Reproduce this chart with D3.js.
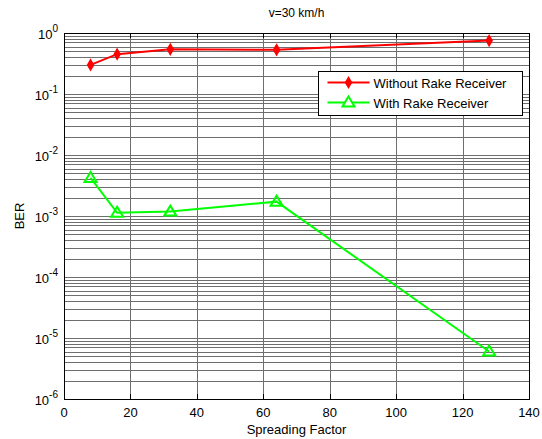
<!DOCTYPE html>
<html>
<head>
<meta charset="utf-8">
<script src="https://d3js.org/d3.v7.min.js"></script>
<style>
  body { margin: 0; background: #fff; }
  text { font-family: "Liberation Sans", Arial, sans-serif; }
</style>
</head>
<body>
<div id="chart"></div>
<script>
// spreading factors and BER values
var spreadingFactor = [8, 16, 32, 64, 128];
var berWithout = [0.30, 0.45, 0.54, 0.53, 0.75];
var berWith = [0.0042, 0.00113, 0.00118, 0.00172, 0.0000060];
var seriesNames = ["Without Rake Receiver", "With Rake Receiver"];
var xTicks = [0, 20, 40, 60, 80, 100, 120, 140];
var yExponents = [0, -1, -2, -3, -4, -5, -6];

var W = 542, H = 439;
var margin = {top: 33, right: 13, bottom: 40, left: 64};
var width = W - margin.left - margin.right,
    height = H - margin.top - margin.bottom;

var svg = d3.select("#chart").append("svg")
    .attr("width", W).attr("height", H);

var g = svg.append("g")
    .attr("transform", "translate(" + margin.left + "," + margin.top + ")");

var x = d3.scaleLinear().domain([0, 140]).range([0, width]);
var y = d3.scaleLog().domain([1e-6, 1]).range([height, 0]);

// grid lines
var minor = [];
for (var e = -6; e < 0; e++) {
    for (var k = 1; k <= 9; k++) minor.push(k * Math.pow(10, e));
}
g.append("g").selectAll("line").data(minor).enter().append("line")
    .attr("x1", 0).attr("x2", width)
    .attr("y1", function (d) { return Math.round(y(d)) + 0.5; })
    .attr("y2", function (d) { return Math.round(y(d)) + 0.5; })
    .attr("stroke", "#6e6e6e").attr("stroke-width", 1);

g.append("g").selectAll("line").data(xTicks.slice(1, -1)).enter().append("line")
    .attr("x1", function (d) { return Math.round(x(d)) + 0.5; })
    .attr("x2", function (d) { return Math.round(x(d)) + 0.5; })
    .attr("y1", 0).attr("y2", height)
    .attr("stroke", "#6e6e6e").attr("stroke-width", 1);

// axes box
g.append("rect").attr("x", 0.5).attr("y", 0.5)
    .attr("width", width).attr("height", height)
    .attr("fill", "none").attr("stroke", "#000").attr("stroke-width", 1);

// x ticks (inside, both sides)
xTicks.forEach(function (t) {
    var px = Math.round(x(t)) + 0.5;
    g.append("line").attr("x1", px).attr("x2", px).attr("y1", height).attr("y2", height - 5).attr("stroke", "#000");
    g.append("line").attr("x1", px).attr("x2", px).attr("y1", 0).attr("y2", 5).attr("stroke", "#000");
    g.append("text").attr("x", x(t)).attr("y", height + 18)
        .attr("text-anchor", "middle").attr("font-size", 13).text(t);
});

// y tick labels 10^n
yExponents.forEach(function (n) {
    var py = y(Math.pow(10, n));
    var t = g.append("text").attr("x", -6).attr("y", py + 6)
        .attr("text-anchor", "end").attr("font-size", 13);
    t.append("tspan").text("10");
    t.append("tspan").attr("dy", -7).attr("font-size", 10).text(n);
});

// series
var ptsWithout = spreadingFactor.map(function (d, i) { return [d, berWithout[i]]; });
var ptsWith = spreadingFactor.map(function (d, i) { return [d, berWith[i]]; });
var line = d3.line().x(function (d) { return x(d[0]); }).y(function (d) { return y(d[1]); });

g.append("path").datum(ptsWithout).attr("d", line)
    .attr("fill", "none").attr("stroke", "#ff0000").attr("stroke-width", 2);
g.append("path").datum(ptsWith).attr("d", line)
    .attr("fill", "none").attr("stroke", "#00ff00").attr("stroke-width", 2);

var diamond = d3.symbol().type(d3.symbolDiamond).size(30);
var tri = "M0,-6L6,4L-6,4Z";

g.selectAll(".mk1").data(ptsWithout).enter().append("path")
    .attr("transform", function (d) { return "translate(" + x(d[0]) + "," + y(d[1]) + ")"; })
    .attr("d", diamond).attr("fill", "#ff0000").attr("stroke", "#ff0000").attr("stroke-width", 1.5);

g.selectAll(".mk2").data(ptsWith).enter().append("path")
    .attr("transform", function (d) { return "translate(" + x(d[0]) + "," + y(d[1]) + ")"; })
    .attr("d", tri).attr("fill", "none").attr("stroke", "#00ff00").attr("stroke-width", 2);

// title and axis labels
svg.append("text").attr("x", margin.left + width / 2).attr("y", 17)
    .attr("text-anchor", "middle").attr("font-size", 12).text("v=30 km/h");
svg.append("text").attr("x", margin.left + width / 2).attr("y", 434)
    .attr("text-anchor", "middle").attr("font-size", 13).text("Spreading Factor");
svg.append("text").attr("transform", "translate(24," + (margin.top + height / 2) + ") rotate(-90)")
    .attr("text-anchor", "middle").attr("font-size", 13).text("BER");

// legend
var lg = svg.append("g").attr("transform", "translate(318.5,71.5)");
lg.append("rect").attr("width", 204).attr("height", 44)
    .attr("fill", "#fff").attr("stroke", "#000");
var colors = ["#ff0000", "#00ff00"];
seriesNames.forEach(function (name, i) {
    var ly = 11 + i * 20;
    lg.append("line").attr("x1", 9).attr("x2", 51).attr("y1", ly).attr("y2", ly)
        .attr("stroke", colors[i]).attr("stroke-width", 2);
    lg.append("path").attr("transform", "translate(30," + ly + ")")
        .attr("d", i === 0 ? diamond : tri)
        .attr("fill", i === 0 ? colors[i] : "#fff")
        .attr("stroke", colors[i]).attr("stroke-width", i === 0 ? 1.5 : 2);
    lg.append("text").attr("x", 55).attr("y", ly + 5).attr("font-size", 13).text(name);
});
</script>
</body>
</html>
